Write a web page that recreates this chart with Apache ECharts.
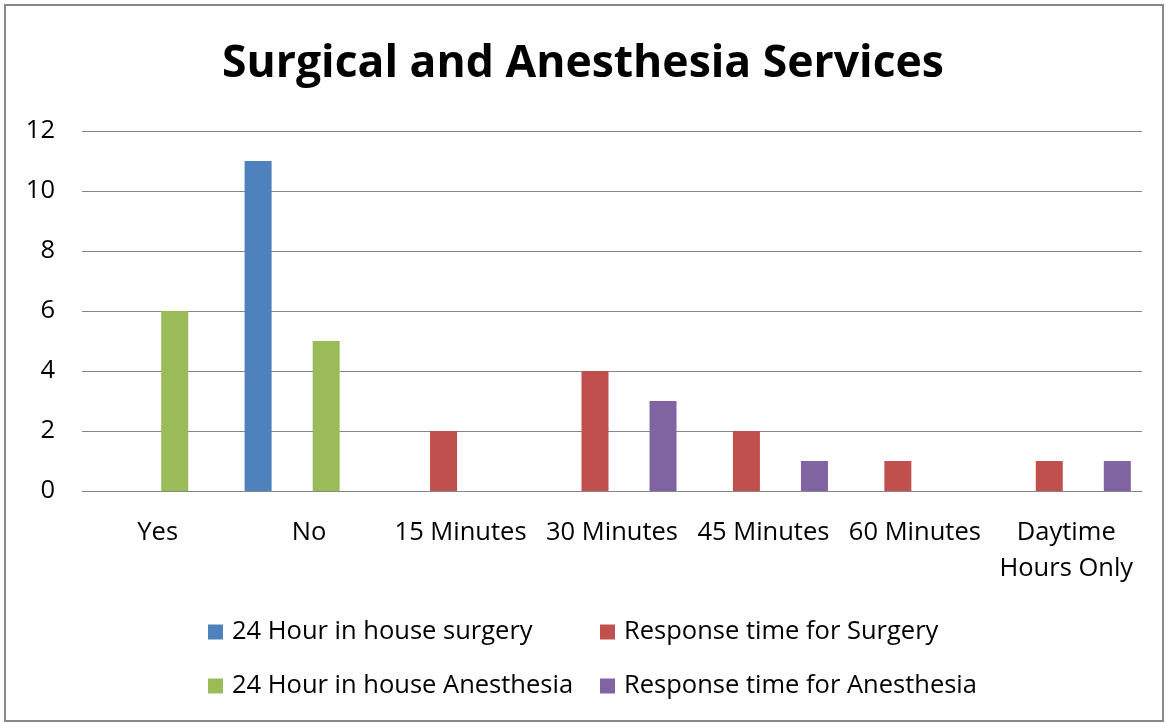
<!DOCTYPE html>
<html>
<head>
<meta charset="utf-8">
<script src="https://cdn.jsdelivr.net/npm/echarts@6/dist/echarts.min.js"></script>
<style>
html,body{margin:0;padding:0;background:#fff;}
#frame{position:absolute;left:4px;top:4px;width:1156px;height:714px;border:2px solid #888;box-sizing:content-box;}
#chart{position:absolute;left:0;top:0;width:1166px;height:723px;}
</style>
</head>
<body>
<div id="frame"></div>
<div id="chart"></div>
<script>
const categories = ['Yes', 'No', '15 Minutes', '30 Minutes', '45 Minutes', '60 Minutes', 'Daytime Hours Only'];
const surgery24 = [null, 11, null, null, null, null, null];
const responseSurgery = [null, null, 2, 4, 2, 1, 1];
const anesthesia24 = [6, 5, null, null, null, null, null];
const responseAnesthesia = [null, null, null, 3, 1, null, 1];
const yTicks = [0, 2, 4, 6, 8, 10, 12];

const FONT = 'Open Sans';
const chart = echarts.init(document.getElementById('chart'), null, {renderer: 'canvas'});
const mk = (name, data, color) => ({
  name, type: 'bar', data, barWidth: 27, barGap: '26%',
  itemStyle: {color}
});
const legendText = {fontFamily: FONT, fontSize: 25.5, color: '#000', lineHeight: 30, padding: [0, 0, 0, 4]};
chart.setOption({
  backgroundColor: 'transparent',
  animation: false,
  title: {
    text: 'Surgical and Anesthesia Services',
    left: 'center', top: 37,
    textStyle: {fontFamily: FONT, fontWeight: 'bold', fontSize: 44.5, color: '#000'}
  },
  legend: [{
    data: ['24 Hour in house surgery', '24 Hour in house Anesthesia'],
    orient: 'vertical', left: 203, top: 612, itemGap: 24,
    itemWidth: 15, itemHeight: 15, icon: 'rect',
    textStyle: legendText
  }, {
    data: ['Response time for Surgery', 'Response time for Anesthesia'],
    orient: 'vertical', left: 595, top: 612, itemGap: 24,
    itemWidth: 15, itemHeight: 15, icon: 'rect',
    textStyle: legendText
  }],
  grid: {left: 82, right: 24, top: 131, bottom: 232},
  xAxis: {
    type: 'category', data: categories,
    axisTick: {show: false},
    axisLine: {lineStyle: {color: '#868686', width: 1}},
    axisLabel: {
      fontFamily: FONT, fontSize: 25.5, color: '#000', margin: 24, interval: 0,
      lineHeight: 36,
      formatter: v => v.replace('Daytime ', 'Daytime\n')
    }
  },
  yAxis: {
    type: 'value', min: yTicks[0], max: yTicks[yTicks.length - 1], interval: 2,
    axisLine: {show: false}, axisTick: {show: false},
    splitLine: {lineStyle: {color: '#868686', width: 1}},
    axisLabel: {fontFamily: FONT, fontSize: 25.5, color: '#000', margin: 27}
  },
  series: [
    mk('24 Hour in house surgery', surgery24, '#4F81BD'),
    mk('Response time for Surgery', responseSurgery, '#C0504D'),
    mk('24 Hour in house Anesthesia', anesthesia24, '#9BBB59'),
    mk('Response time for Anesthesia', responseAnesthesia, '#8064A2')
  ]
});
</script>
</body>
</html>
